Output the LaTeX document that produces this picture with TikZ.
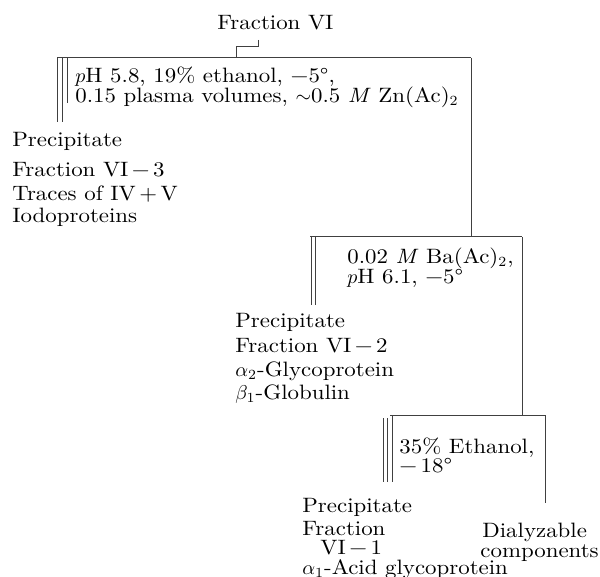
\documentclass[tikz,border=0pt]{standalone}
\usepackage{fontspec}
\setmainfont{Latin Modern Roman}[FakeStretch=1.1]
\newcommand\twolines[2]{\vtop{\baselineskip=9.6pt\lineskiplimit=-20pt\lineskip=0pt\hbox{#1}\hbox{#2}}}
\begin{document}
\begin{tikzpicture}[x=0.5pt,y=-0.5pt,
  txt/.style={anchor=base west,inner sep=0pt,font=\fontsize{10.4}{12}\selectfont},
  rule/.style={draw=black!75,line width=0.5pt}]
\useasboundingbox (0,0) rectangle (600,577);
% title
\node[txt] (top) at (217,30) {Fraction VI};
% first step
\coordinate (b1) at (258,40);
\coordinate (b2) at (258,47);
\coordinate (b3) at (236,47);
\coordinate (b4) at (236,58);
\draw[rule] (b1) -- (b2) -- (b3) -- (b4);
\coordinate (h1l) at (57,58);
\coordinate (h1r) at (471,58);
\draw[rule] (h1l) -- (h1r);
\draw[rule] (57,58) -- (57,122);
\draw[rule] (62,58) -- (62,122);
\draw[rule] (67,58) -- (67,103);
\node[txt] (c1) at (75,83) {\twolines{$p$H 5.8, 19\% ethanol, −5°,}{0.15 plasma volumes, $\sim$0.5 \textit{M} Zn(Ac)$_2$}};
\node[txt] (p3a) at (12,147) {Precipitate};
\node[txt] (p3b) at (12,177) {Fraction VI\,−\,3};
\node[txt] (p3c) at (12,201) {Traces of IV\,+\,V};
\node[txt] (p3d) at (12,223) {Iodoproteins};
% second step
\coordinate (h2r) at (522,237);
\draw[rule] (h1r) -- (471,237);
\draw[rule] (310,237) -- (h2r);
\draw[rule] (311,237) -- (311,305);
\draw[rule] (315,237) -- (315,305);
\node[txt] (c2) at (347,264) {\twolines{0.02 \textit{M} Ba(Ac)$_2$,}{$p$H 6.1, −5°}};
\node[txt] (p2a) at (235,328) {Precipitate};
\node[txt] (p2b) at (235,353) {Fraction VI\,−\,2};
\node[txt] (p2c) at (235,377) {$\alpha_2$-Glycoprotein};
\node[txt] (p2d) at (235,400) {$\beta_1$-Globulin};
% third step
\coordinate (h3r) at (545,415);
\draw[rule] (h2r) -- (522,415);
\draw[rule] (390,415) -- (h3r);
\draw[rule] (383,418) -- (383,482);
\draw[rule] (387,418) -- (387,482);
\draw[rule] (392,415) -- (392,482);
\draw[rule] (h3r) -- (545,503);
\node[txt] (c3) at (399,453) {\twolines{35\% Ethanol,}{−\,18°}};
\node[txt] (p1a) at (302,512) {Precipitate};
\node[txt] (p1b) at (302,535) {Fraction};
\node[txt] (p1c) at (320,554) {VI\,−\,1};
\node[txt] (p1d) at (302,574) {$\alpha_1$-Acid glycoprotein};
\node[txt] (d1a) at (482,537) {Dialyzable};
\node[txt] (d1b) at (480,557) {components};
\end{tikzpicture}
\end{document}
